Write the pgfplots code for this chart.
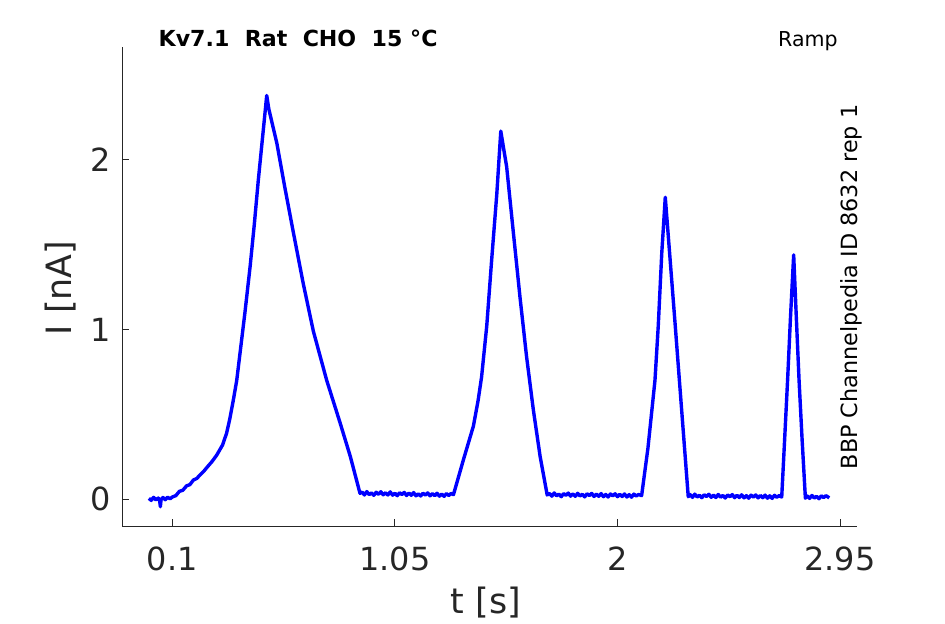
\documentclass[border=0pt]{standalone}
\usepackage{pgfplots}
\pgfplotsset{compat=1.18}
\usepackage{fontspec}
\setmainfont{DejaVu Sans}
\definecolor{axgray}{RGB}{38,38,38}
\begin{document}
\begin{tikzpicture}
\useasboundingbox (0,0) rectangle (472.5bp,312bp);
\begin{axis}[
  at={(61.15bp,49bp)}, anchor=south west,
  width=367.2bp, height=239.65bp, scale only axis,
  xmin=-0.1134, xmax=3.021, ymin=-0.159, ymax=2.668,
  axis lines*=left,
  axis line style={axgray, line width=0.5bp},
  xtick={0.1,1.05,2,2.95}, xticklabels={0.1,1.05,2,2.95},
  ytick={0,1,2}, yticklabels={0,1,2},
  tick align=inside, major tick length=3.5bp,
  tick style={axgray, line width=0.5bp},
  ticklabel style={font=\fontsize{16}{19}\selectfont, text=axgray},
  xticklabel style={yshift=-7bp},
  yticklabel style={xshift=-2bp},
  /pgf/number format/assume math mode=true,
  clip=false,
]
\addplot[blue, line width=1.7bp, line join=round] coordinates {
(0.000,0.004) (0.010,-0.008) (0.020,0.010) (0.030,-0.005) (0.040,0.006) (0.046,-0.010) (0.049,-0.045) (0.052,-0.004) (0.060,0.009) (0.070,-0.004) (0.080,0.011) (0.090,0.001) (0.100,0.012)
(0.115,0.020) (0.13,0.045) (0.145,0.052) (0.161,0.078) (0.175,0.085) (0.19,0.112) (0.205,0.122) (0.218,0.142) (0.235,0.165) (0.25,0.19) (0.27,0.222) (0.29,0.26) (0.315,0.32) (0.332,0.39) (0.345,0.47) (0.36,0.58) (0.375,0.70) (0.389,0.86) (0.41,1.10) (0.432,1.37) (0.45,1.62) (0.467,1.88) (0.485,2.13) (0.503,2.38)
(0.512,2.30) (0.546,2.10) (0.58,1.84) (0.617,1.57) (0.659,1.27) (0.702,0.99) (0.759,0.70) (0.816,0.45) (0.86,0.25) (0.901,0.034)
(0.91,0.041) (0.92,0.024) (0.93,0.044) (0.94,0.026) (0.95,0.036) (0.96,0.022) (0.97,0.040) (0.98,0.028) (0.99,0.043) (1.00,0.025) (1.01,0.037) (1.02,0.024) (1.03,0.042) (1.04,0.023) (1.05,0.034) (1.06,0.020) (1.07,0.037) (1.08,0.027) (1.09,0.039) (1.10,0.021) (1.11,0.035) (1.12,0.022) (1.13,0.038) (1.14,0.019) (1.15,0.031) (1.16,0.018) (1.17,0.034) (1.18,0.024) (1.19,0.036) (1.20,0.019) (1.21,0.032) (1.22,0.020) (1.23,0.034) (1.24,0.017) (1.25,0.029) (1.26,0.016) (1.27,0.032) (1.28,0.021) (1.29,0.033) (1.30,0.026)
(1.34,0.22) (1.385,0.43) (1.405,0.58) (1.42,0.72) (1.442,1.02) (1.463,1.41) (1.485,1.80) (1.502,2.17)
(1.515,2.06) (1.527,1.96) (1.555,1.58) (1.584,1.19) (1.612,0.84) (1.641,0.525) (1.67,0.25) (1.70,0.024)
(1.71,0.033) (1.72,0.017) (1.73,0.036) (1.74,0.019) (1.75,0.029) (1.76,0.014) (1.77,0.032) (1.78,0.022) (1.79,0.035) (1.80,0.017) (1.81,0.030) (1.82,0.016) (1.83,0.034) (1.84,0.018) (1.85,0.028) (1.86,0.013) (1.87,0.031) (1.88,0.021) (1.89,0.033) (1.90,0.015) (1.91,0.029) (1.92,0.016) (1.93,0.032) (1.94,0.014) (1.95,0.027) (1.96,0.012) (1.97,0.030) (1.98,0.019) (1.99,0.031) (2.00,0.014) (2.01,0.028) (2.02,0.015) (2.03,0.030) (2.04,0.012) (2.05,0.026) (2.06,0.011) (2.07,0.029) (2.08,0.018) (2.09,0.027) (2.103,0.020)
(2.13,0.30) (2.160,0.70) (2.174,1.02) (2.189,1.45) (2.204,1.78)
(2.245,1.05) (2.302,0.014)
(2.31,0.026) (2.32,0.010) (2.33,0.029) (2.34,0.012) (2.35,0.022) (2.36,0.008) (2.37,0.025) (2.38,0.015) (2.39,0.028) (2.40,0.010) (2.41,0.023) (2.42,0.009) (2.43,0.027) (2.44,0.011) (2.45,0.021) (2.46,0.006) (2.47,0.024) (2.48,0.014) (2.49,0.026) (2.50,0.008) (2.51,0.022) (2.52,0.009) (2.53,0.025) (2.54,0.007) (2.55,0.020) (2.56,0.005) (2.57,0.023) (2.58,0.012) (2.59,0.024) (2.60,0.007) (2.61,0.021) (2.62,0.008) (2.63,0.023) (2.64,0.005) (2.65,0.019) (2.66,0.004) (2.67,0.022) (2.68,0.011) (2.69,0.020) (2.701,0.012)
(2.713,0.34) (2.726,0.70) (2.738,1.06) (2.752,1.44)
(2.763,1.08) (2.775,0.70) (2.788,0.35) (2.802,0.005)
(2.81,0.018) (2.82,0.004) (2.83,0.021) (2.84,0.006) (2.85,0.016) (2.86,0.002) (2.87,0.019) (2.88,0.009) (2.89,0.020) (2.904,0.007)
};
\node[inner sep=0pt, anchor=base west, font=\bfseries\fontsize{11.1}{13}\selectfont] at (rel axis cs:0.049,1.0) {Kv7.1\ \ Rat\ \ CHO\ \ 15 °C};
\node[inner sep=0pt, anchor=base east, font=\fontsize{10.3}{12}\selectfont] at (rel axis cs:0.9745,1.0) {Ramp};
\node[inner sep=0pt, anchor=base, rotate=90, font=\fontsize{11.2}{14}\selectfont] at (rel axis cs:1.0014,0.4987) {BBP Channelpedia ID 8632 rep 1};
\node[inner sep=0pt, anchor=base, rotate=90, text=axgray, font=\fontsize{17.5}{21}\selectfont] at (rel axis cs:-0.0689,0.4966) {I [nA]};
\node[inner sep=0pt, anchor=base, text=axgray, font=\fontsize{17.5}{21}\selectfont] at (rel axis cs:0.4952,-0.1836) {t [s]};
\end{axis}
\end{tikzpicture}
\end{document}
